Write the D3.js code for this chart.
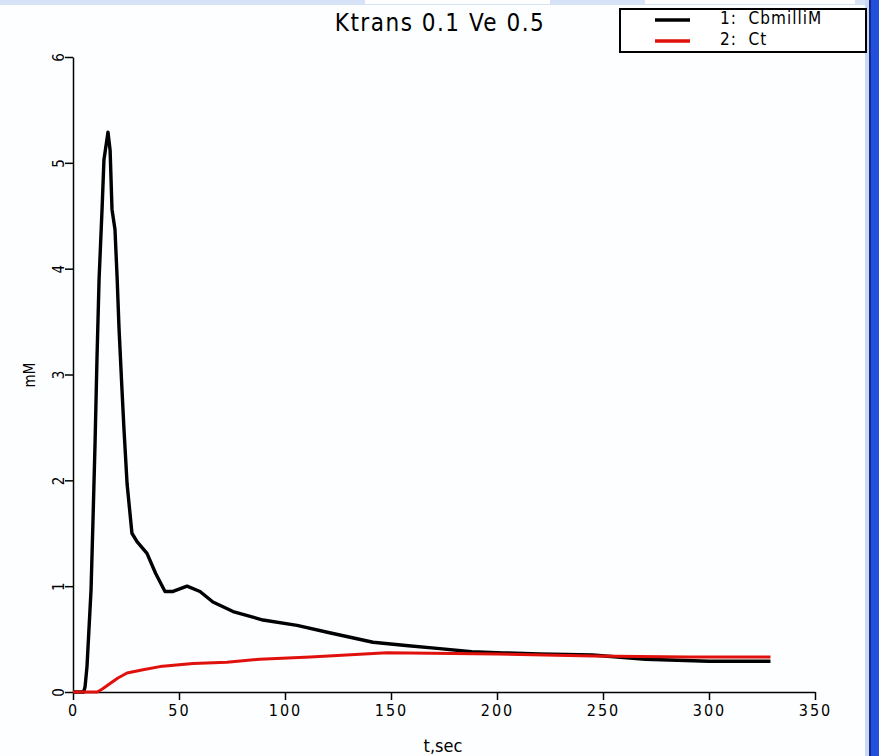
<!DOCTYPE html>
<html>
<head>
<meta charset="utf-8">
<script src="https://cdn.jsdelivr.net/npm/d3@7"></script>
<style>
  body { margin: 0; background: #fff; }
  svg { display: block; }
  .axis text { font-family: "DejaVu Sans Condensed", "DejaVu Sans", sans-serif; font-stretch: condensed; }
</style>
</head>
<body>
<div id="chart"></div>
<script>
// CbmilliM curve (black)
const cbTime = [0, 5, 5.7, 6.6, 8.5, 9.4, 10.4, 11.3, 12.3, 13.7, 14.6, 16.5, 17.5, 18.4, 19.8, 20.8, 21.7, 23, 24, 25.5, 27.8, 30.2, 34.9, 39, 43.4, 47.2, 53.8, 59.9, 66, 75.5, 89.6, 105.7, 121, 141.5, 157, 173, 188, 203, 220, 245, 270, 300, 329];
const cbValues = [0, 0, 0.05, 0.24, 0.96, 1.6, 2.35, 3.14, 3.9, 4.56, 5.03, 5.29, 5.12, 4.56, 4.37, 3.92, 3.44, 2.9, 2.5, 1.97, 1.5, 1.42, 1.31, 1.12, 0.95, 0.95, 1.0, 0.95, 0.85, 0.76, 0.68, 0.63, 0.56, 0.47, 0.44, 0.41, 0.38, 0.37, 0.36, 0.35, 0.31, 0.29, 0.29];

// Ct curve (red)
const ctTime = [0, 11.5, 14, 17.5, 21, 25.5, 33, 41, 56.6, 72.6, 88, 112, 148, 200, 245, 290, 329];
const ctValues = [0, 0, 0.03, 0.08, 0.13, 0.18, 0.21, 0.24, 0.27, 0.28, 0.31, 0.33, 0.37, 0.36, 0.34, 0.33, 0.33];

const xTicks = [0, 50, 100, 150, 200, 250, 300, 350];
const yTicks = [0, 1, 2, 3, 4, 5, 6];
const seriesNames = ['1: CbmilliM', '2: Ct'];
const seriesColors = ['#000000', '#e0100c'];

const width = 879;
const height = 756;
const fontFamily = '"DejaVu Sans Condensed", "DejaVu Sans", sans-serif';

const svg = d3.select('#chart').append('svg')
  .attr('width', width)
  .attr('height', height);

svg.append('rect').attr('width', width).attr('height', height).attr('fill', '#fdfeff');

// window chrome bits
svg.append('rect').attr('x', 0).attr('y', 0).attr('width', width).attr('height', 5).attr('fill', '#d6e2f5');
svg.append('rect').attr('x', 365).attr('y', 0).attr('width', 185).attr('height', 4).attr('fill', '#ffffff');
svg.append('rect').attr('x', 645).attr('y', 0).attr('width', 210).attr('height', 4).attr('fill', '#ffffff');
svg.append('rect').attr('x', 865).attr('y', 0).attr('width', 4).attr('height', height).attr('fill', '#c9d8f4');
svg.append('rect').attr('x', 869).attr('y', 0).attr('width', 2).attr('height', height).attr('fill', '#1a2a80');
svg.append('rect').attr('x', 871).attr('y', 0).attr('width', 8).attr('height', height).attr('fill', '#2150de');

const xScale = d3.scaleLinear().domain([0, 350]).range([73, 815]);
const yScale = d3.scaleLinear().domain([0, 6]).range([692, 57]);

// x axis
const xAxis = svg.append('g')
  .attr('class', 'axis')
  .attr('transform', 'translate(0,' + yScale(0) + ')')
  .call(d3.axisBottom(xScale).tickValues(xTicks).tickFormat(d3.format('d')).tickSize(8).tickSizeOuter(0).tickPadding(5));
xAxis.select('.domain').attr('stroke', '#000').attr('stroke-width', 1.5);
xAxis.selectAll('line').attr('stroke-width', 1.5);
xAxis.selectAll('text')
  .attr('font-size', 16)
  .attr('letter-spacing', 2)
  .attr('fill', '#000');

// y axis
const yAxis = svg.append('g')
  .attr('class', 'axis')
  .attr('transform', 'translate(' + xScale(0) + ',0)')
  .call(d3.axisLeft(yScale).tickValues(yTicks).tickFormat(d3.format('d')).tickSize(8).tickSizeOuter(0).tickPadding(4));
yAxis.select('.domain').attr('stroke', '#000').attr('stroke-width', 1.5);
yAxis.selectAll('line').attr('stroke-width', 1.5);
yAxis.selectAll('text')
  .attr('font-size', 15)
  .attr('fill', '#000')
  .attr('text-anchor', 'middle')
  .attr('dy', 0)
  .attr('x', 0)
  .attr('transform', 'translate(-14,0) rotate(-90)')
  .attr('dominant-baseline', 'central');

// axis titles
svg.append('text')
  .attr('x', 443).attr('y', 752)
  .attr('text-anchor', 'middle')
  .attr('font-family', fontFamily)
  .attr('font-size', 18)
  .text('t,sec');

svg.append('text')
  .attr('transform', 'translate(30,375) rotate(-90)')
  .attr('text-anchor', 'middle')
  .attr('dominant-baseline', 'central')
  .attr('font-family', fontFamily)
  .attr('font-size', 15)
  .text('mM');

// title
svg.append('text')
  .attr('x', 440).attr('y', 31)
  .attr('text-anchor', 'middle')
  .attr('font-family', fontFamily)
  .attr('font-size', 24)
  .attr('letter-spacing', 1.5)
  .text('Ktrans 0.1 Ve 0.5');

// curves
const line = d3.line()
  .x((d) => xScale(d[0]))
  .y((d) => yScale(d[1]));

const ctData = ctTime.map((t, i) => [t, ctValues[i]]);
const cbData = cbTime.map((t, i) => [t, cbValues[i]]);

svg.append('path')
  .attr('d', line(cbData))
  .attr('fill', 'none')
  .attr('stroke', seriesColors[0])
  .attr('stroke-width', 3.4)
  .attr('stroke-linejoin', 'round');

svg.append('path')
  .attr('d', line(ctData))
  .attr('fill', 'none')
  .attr('stroke', seriesColors[1])
  .attr('stroke-width', 3)
  .attr('stroke-linejoin', 'round');

// legend
const legend = svg.append('g');
legend.append('rect')
  .attr('x', 620).attr('y', 9)
  .attr('width', 246).attr('height', 43)
  .attr('fill', '#fff')
  .attr('stroke', '#000')
  .attr('stroke-width', 2);

seriesNames.forEach((name, i) => {
  const y = 20 + i * 21;
  legend.append('line')
    .attr('x1', 655).attr('x2', 690)
    .attr('y1', y).attr('y2', y)
    .attr('stroke', seriesColors[i])
    .attr('stroke-width', 3.5);
  legend.append('text')
    .attr('x', 720).attr('y', y - 2)
    .attr('dominant-baseline', 'central')
    .attr('font-family', fontFamily)
    .attr('font-size', 17)
    .attr('letter-spacing', 1)
    .attr('xml:space', 'preserve')
    .style('white-space', 'pre')
    .text(name.replace(': ', ':  '));
});
</script>
</body>
</html>
